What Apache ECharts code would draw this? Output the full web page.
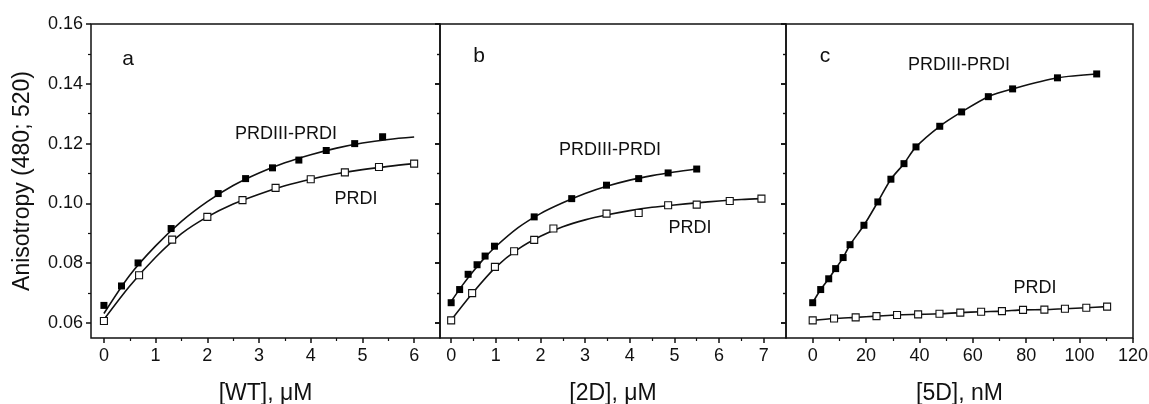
<!DOCTYPE html>
<html><head><meta charset="utf-8">
<script src="https://cdn.jsdelivr.net/npm/echarts@6/dist/echarts.min.js"></script>
<style>html,body{margin:0;padding:0;background:#fff}#c{width:1149px;height:404px}</style>
</head><body><div id="c"></div>
<script>
// ---- tick values ----
const yMajorTicks = [0.06, 0.08, 0.10, 0.12, 0.14, 0.16];
const yMinorTicks = [0.07, 0.09, 0.11, 0.13, 0.15];
const xTicksA = [0, 1, 2, 3, 4, 5, 6];
const xMinorA = [0.5, 1.5, 2.5, 3.5, 4.5, 5.5];
const xTicksB = [0, 1, 2, 3, 4, 5, 6, 7];
const xMinorB = [0.5, 1.5, 2.5, 3.5, 4.5, 5.5, 6.5];
const xTicksC = [0, 20, 40, 60, 80, 100, 120];
const xMinorC = [10, 30, 50, 70, 90, 110];

// ---- panel a : [WT], uM ----
const aFilledX = [0, 0.34, 0.66, 1.30, 2.21, 2.74, 3.26, 3.77, 4.30, 4.85, 5.39];
const aFilledY = [0.0659, 0.0724, 0.0801, 0.0916, 0.1033, 0.1083, 0.1119, 0.1145, 0.1177, 0.1200, 0.1223];
const aOpenX = [0, 0.68, 1.32, 2.0, 2.68, 3.32, 4.0, 4.66, 5.32, 6.0];
const aOpenY = [0.0607, 0.0760, 0.0879, 0.0955, 0.1011, 0.1052, 0.1081, 0.1104, 0.1122, 0.1133];
const aFitFilledX = [0, 0.5, 1.0, 1.5, 2.0, 2.5, 3.0, 3.5, 4.0, 4.5, 5.0, 5.5, 6.0];
const aFitFilledY = [0.0632, 0.0760, 0.0858, 0.0940, 0.1006, 0.1060, 0.1102, 0.1136, 0.1163, 0.1185, 0.1202, 0.1214, 0.1222];
const aFitOpenX = [0, 0.5, 1.0, 1.5, 2.0, 2.5, 3.0, 3.5, 4.0, 4.5, 5.0, 5.5, 6.0];
const aFitOpenY = [0.0612, 0.0724, 0.0820, 0.0899, 0.0955, 0.0998, 0.1031, 0.1059, 0.1081, 0.1099, 0.1113, 0.1124, 0.1133];

// ---- panel b : [2D], uM ----
const bFilledX = [0, 0.19, 0.38, 0.58, 0.76, 0.97, 1.86, 2.70, 3.48, 4.20, 4.86, 5.50];
const bFilledY = [0.0668, 0.0712, 0.0763, 0.0795, 0.0824, 0.0857, 0.0955, 0.1016, 0.1061, 0.1083, 0.1102, 0.1115];
const bOpenX = [0, 0.47, 0.98, 1.41, 1.86, 2.29, 3.48, 4.20, 4.86, 5.50, 6.24, 6.95];
const bOpenY = [0.0609, 0.0700, 0.0788, 0.0840, 0.0878, 0.0916, 0.0966, 0.0968, 0.0994, 0.0996, 0.1008, 0.1016];
const bFitFilledX = [0, 0.25, 0.5, 0.75, 1.0, 1.5, 2.0, 2.5, 3.0, 3.5, 4.0, 4.5, 5.0, 5.5];
const bFitFilledY = [0.0672, 0.0726, 0.0774, 0.0818, 0.0856, 0.0919, 0.0966, 0.1002, 0.1033, 0.1058, 0.1078, 0.1093, 0.1105, 0.1115];
const bFitOpenX = [0, 0.5, 1.0, 1.5, 2.0, 2.5, 3.0, 3.5, 4.0, 4.5, 5.0, 5.5, 6.0, 6.5, 6.95];
const bFitOpenY = [0.0610, 0.0704, 0.0787, 0.0847, 0.0890, 0.0922, 0.0945, 0.0962, 0.0976, 0.0987, 0.0995, 0.1002, 0.1008, 0.1013, 0.1016];

// ---- panel c : [5D], nM ----
const cFilledX = [0, 3.0, 6.0, 8.6, 11.4, 14.0, 19.2, 24.4, 29.3, 34.2, 38.7, 47.6, 55.8, 65.8, 74.9, 91.7, 106.4];
const cFilledY = [0.0668, 0.0712, 0.0748, 0.0782, 0.0819, 0.0862, 0.0927, 0.1005, 0.1081, 0.1133, 0.1189, 0.1258, 0.1306, 0.1357, 0.1383, 0.1420, 0.1433];
const cOpenX = [0, 8.0, 16.1, 23.9, 31.6, 39.5, 47.5, 55.3, 63.1, 70.9, 78.8, 86.8, 94.5, 102.5, 110.3];
const cOpenY = [0.0609, 0.0615, 0.0619, 0.0623, 0.0627, 0.0629, 0.0631, 0.0635, 0.0638, 0.0640, 0.0644, 0.0645, 0.0648, 0.0651, 0.0655];

const seriesNames = ['PRDIII-PRDI', 'PRDI'];
const panelLetters = ['a', 'b', 'c'];
const xNames = ['[WT], \u03bcM', '[2D], \u03bcM', '[5D], nM'];
const yName = 'Anisotropy (480; 520)';

// ---- layout / style ----
const FONT = '"Liberation Sans", Arial, sans-serif';
const grids = [
  {left: 91, top: 24, width: 349, height: 314},
  {left: 440, top: 24, width: 346, height: 314},
  {left: 786, top: 24, width: 347, height: 314}
];
const xRanges = [[-0.25, 6.5], [-0.25, 7.5], [-10, 120]];
const xMajor = [xTicksA, xTicksB, xTicksC];
const xMinor = [xMinorA, xMinorB, xMinorC];

const zip = (xs, ys) => xs.map((x, i) => [x, ys[i]]);
const noLine = {show: false, onZero: false};

const xAxes = [], yAxes = [], series = [];
grids.forEach((g, i) => {
  xAxes.push({
    type: 'value', gridIndex: i, min: xRanges[i][0], max: xRanges[i][1], position: 'bottom',
    name: xNames[i], nameLocation: 'middle', nameGap: 44,
    nameTextStyle: {fontSize: 23, fontFamily: FONT, color: '#111'},
    axisLine: noLine, splitLine: {show: false},
    axisTick: {show: true, inside: false, length: 5, customValues: xMajor[i], lineStyle: {color: '#111', width: 1.5}},
    axisLabel: {show: true, customValues: xMajor[i], margin: 9, fontSize: 18, fontFamily: FONT, color: '#111'}
  });
  xAxes.push({
    type: 'value', gridIndex: i, min: xRanges[i][0], max: xRanges[i][1], position: 'bottom',
    axisLine: noLine, splitLine: {show: false}, axisLabel: {show: false},
    axisTick: {show: true, inside: false, length: 3, customValues: xMinor[i], lineStyle: {color: '#111', width: 1.2}}
  });
  const yBase = {type: 'value', gridIndex: i, min: 0.055, max: 0.16, axisLine: noLine, splitLine: {show: false}};
  yAxes.push(Object.assign({}, yBase, {
    position: 'left',
    name: i === 0 ? yName : '', nameLocation: 'middle', nameGap: 57,
    nameTextStyle: {fontSize: 23, fontFamily: FONT, color: '#111'},
    axisTick: {show: true, inside: false, length: 5, customValues: yMajorTicks, lineStyle: {color: '#111', width: 1.5}},
    axisLabel: {show: i === 0, customValues: yMajorTicks, margin: 8, fontSize: 18, fontFamily: FONT, color: '#111',
                formatter: v => v.toFixed(2)}
  }));
  yAxes.push(Object.assign({}, yBase, {
    position: 'left', axisLabel: {show: false},
    axisTick: {show: true, inside: false, length: 3, customValues: yMinorTicks, lineStyle: {color: '#111', width: 1.2}}
  }));
  yAxes.push(Object.assign({}, yBase, {
    position: 'right', axisLabel: {show: false},
    axisTick: {show: i < 2, inside: true, length: 5, customValues: yMajorTicks, lineStyle: {color: '#111', width: 1.5}}
  }));
  yAxes.push(Object.assign({}, yBase, {
    position: 'right', axisLabel: {show: false},
    axisTick: {show: i < 2, inside: true, length: 3, customValues: yMinorTicks, lineStyle: {color: '#111', width: 1.2}}
  }));
});

const panels = [
  {fitF: zip(aFitFilledX, aFitFilledY), fitO: zip(aFitOpenX, aFitOpenY), f: zip(aFilledX, aFilledY), o: zip(aOpenX, aOpenY)},
  {fitF: zip(bFitFilledX, bFitFilledY), fitO: zip(bFitOpenX, bFitOpenY), f: zip(bFilledX, bFilledY), o: zip(bOpenX, bOpenY)},
  {fitF: zip(cFilledX, cFilledY), fitO: zip(cOpenX, cOpenY), f: zip(cFilledX, cFilledY), o: zip(cOpenX, cOpenY)}
];

panels.forEach((p, i) => {
  const xi = i * 2, yi = i * 4;
  [p.fitF, p.fitO].forEach((d, k) => series.push({
    type: 'line', name: seriesNames[k] + ' fit', xAxisIndex: xi, yAxisIndex: yi, data: d,
    showSymbol: false, smooth: 0.3, z: 2,
    lineStyle: {color: '#111', width: 1.6}, silent: true
  }));
  series.push({
    type: 'scatter', name: seriesNames[0], xAxisIndex: xi, yAxisIndex: yi, data: p.f,
    symbol: 'rect', symbolSize: 7, z: 4, itemStyle: {color: '#000', opacity: 1}
  });
  series.push({
    type: 'scatter', name: seriesNames[1], xAxisIndex: xi, yAxisIndex: yi, data: p.o,
    symbol: 'rect', symbolSize: 7, z: 4, itemStyle: {color: '#fff', borderColor: '#111', borderWidth: 1.1, opacity: 1}
  });
});

const notes = [
  {t: panelLetters[0], x: 128, y: 59, s: 21},
  {t: panelLetters[1], x: 479, y: 56, s: 21},
  {t: panelLetters[2], x: 825, y: 56, s: 21},
  {t: seriesNames[0], x: 286, y: 134, s: 18},
  {t: seriesNames[1], x: 356, y: 199, s: 18},
  {t: seriesNames[0], x: 610, y: 150, s: 18},
  {t: seriesNames[1], x: 690, y: 228, s: 18},
  {t: seriesNames[0], x: 959, y: 65, s: 18},
  {t: seriesNames[1], x: 1035, y: 288, s: 18}
];

const chart = echarts.init(document.getElementById('c'), null, {renderer: 'canvas'});
chart.setOption({
  backgroundColor: '#fff',
  animation: false,
  grid: grids.map(g => Object.assign({show: true, borderColor: '#111', borderWidth: 1.5, backgroundColor: 'transparent',
                                      containLabel: false, outerBoundsMode: 'none'}, g)),
  xAxis: xAxes,
  yAxis: yAxes,
  series: series,
  graphic: notes.map(n => ({
    type: 'text', x: n.x, y: n.y, z: 10,
    style: {text: n.t, font: n.s + 'px ' + FONT, fill: '#111', align: 'center', verticalAlign: 'middle'}
  }))
});
</script></body></html>
